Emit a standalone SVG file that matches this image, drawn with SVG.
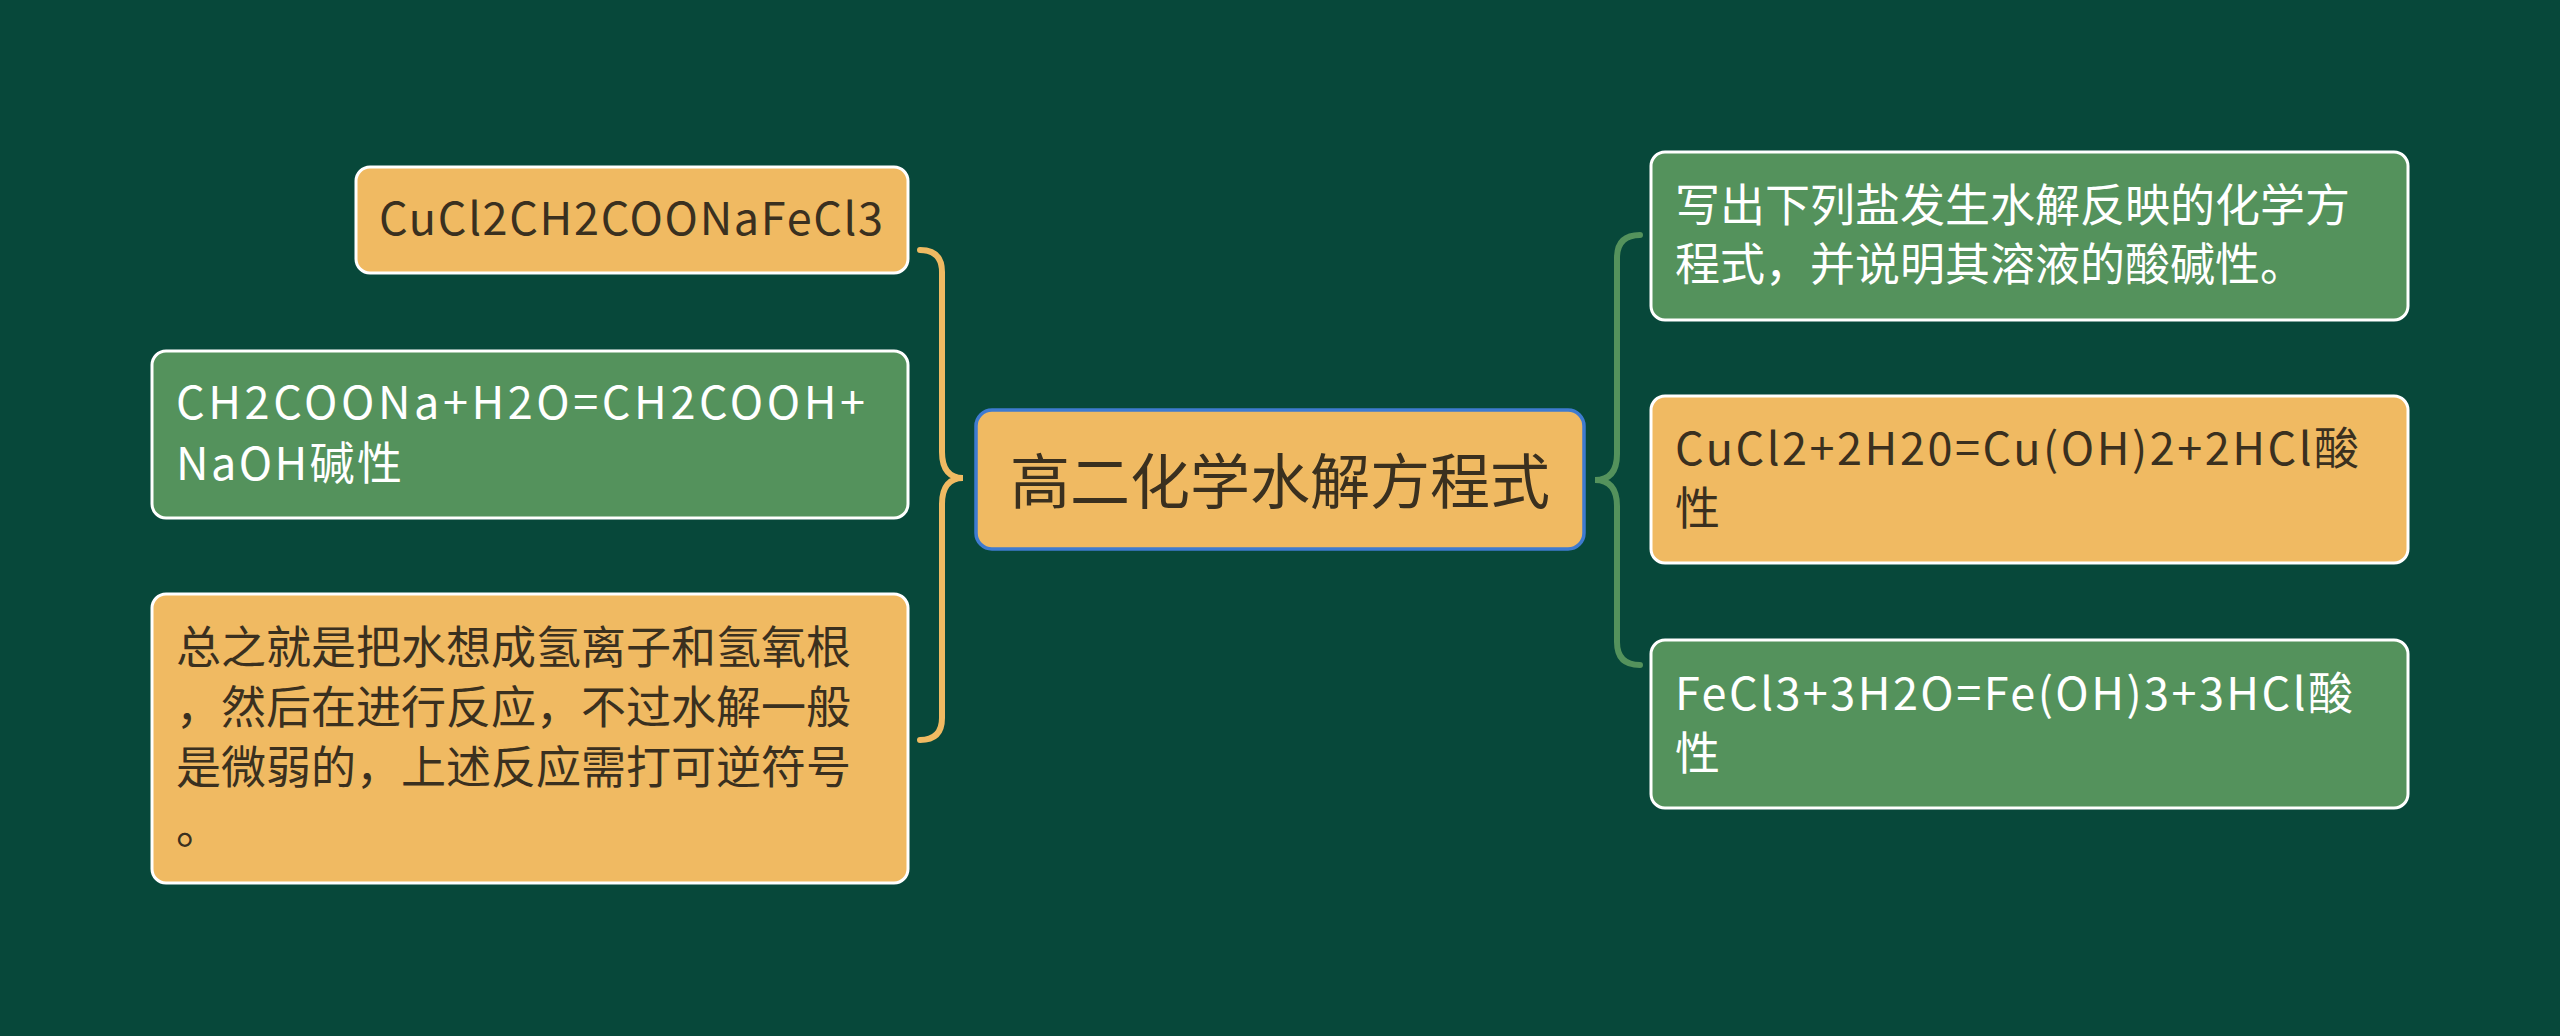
<svg xmlns="http://www.w3.org/2000/svg" width="2560" height="1036" viewBox="0 0 2560 1036">
<style>
.bg{fill:#07483A}
.org{fill:#F0BA62;stroke:#FFFFFF;stroke-width:3}
.grn{fill:#54925C;stroke:#FFFFFF;stroke-width:3}
.ctr{fill:#F0BA62;stroke:#3F7BD0;stroke-width:3.5}
text{font-family:"Noto Sans CJK SC","Noto Sans",sans-serif;font-size:45px}
.dk{fill:#3A301F}
.wt{fill:#FFFFFF}
.title{font-size:60px}
.br{fill:none;stroke-width:6;stroke-linecap:round}
</style>
<rect class="bg" x="0" y="0" width="2560" height="1036"/>
<g id="connectors">
<path class="br" stroke="#F0BA62" d="M920,250 Q942,250 942,272 L942,452 C942,470 950,478 963,478 C950,478 942,486 942,504 L942,718 Q942,740 920,740"/>
<path class="br" stroke="#54925C" d="M1640,235 Q1617,235 1617,258 L1617,454 C1617,472 1609,480 1595,480 C1609,480 1617,488 1617,506 L1617,642 Q1617,665 1640,665"/>
</g>
<g id="center">
<rect class="ctr" x="976" y="410" width="608" height="139" rx="16"/>
<text class="dk title" x="1280" y="504" text-anchor="middle">高二化学水解方程式</text>
</g>
<g id="nodeA">
<rect class="org" x="356" y="167" width="552" height="106" rx="14"/>
<text class="dk" x="379" y="235" textLength="504" lengthAdjust="spacing">CuCl2CH2COONaFeCl3</text>
</g>
<g id="nodeB">
<rect class="grn" x="152" y="351" width="756" height="167" rx="14"/>
<text class="wt" x="176" y="419" textLength="689" lengthAdjust="spacing">CH2COONa+H2O=CH2COOH+</text>
<text class="wt" x="176" y="480" textLength="226" lengthAdjust="spacing">NaOH碱性</text>
</g>
<g id="nodeC">
<rect class="org" x="152" y="594" width="756" height="289" rx="14"/>
<text class="dk" x="176" y="664">总之就是把水想成氢离子和氢氧根</text>
<text class="dk" x="176" y="724">，然后在进行反应，不过水解一般</text>
<text class="dk" x="176" y="784">是微弱的，上述反应需打可逆符号</text>
<text class="dk" x="176" y="844">。</text>
</g>
<g id="nodeR1">
<rect class="grn" x="1651" y="152" width="757" height="168" rx="14"/>
<text class="wt" x="1675" y="222">写出下列盐发生水解反映的化学方</text>
<text class="wt" x="1675" y="281">程式，并说明其溶液的酸碱性。</text>
</g>
<g id="nodeR2">
<rect class="org" x="1651" y="396" width="757" height="167" rx="14"/>
<text class="dk" x="1675" y="465" textLength="684" lengthAdjust="spacing">CuCl2+2H20=Cu(OH)2+2HCl酸</text>
<text class="dk" x="1675" y="525">性</text>
</g>
<g id="nodeR3">
<rect class="grn" x="1651" y="640" width="757" height="168" rx="14"/>
<text class="wt" x="1675" y="710" textLength="678" lengthAdjust="spacing">FeCl3+3H2O=Fe(OH)3+3HCl酸</text>
<text class="wt" x="1675" y="770">性</text>
</g>
</svg>
